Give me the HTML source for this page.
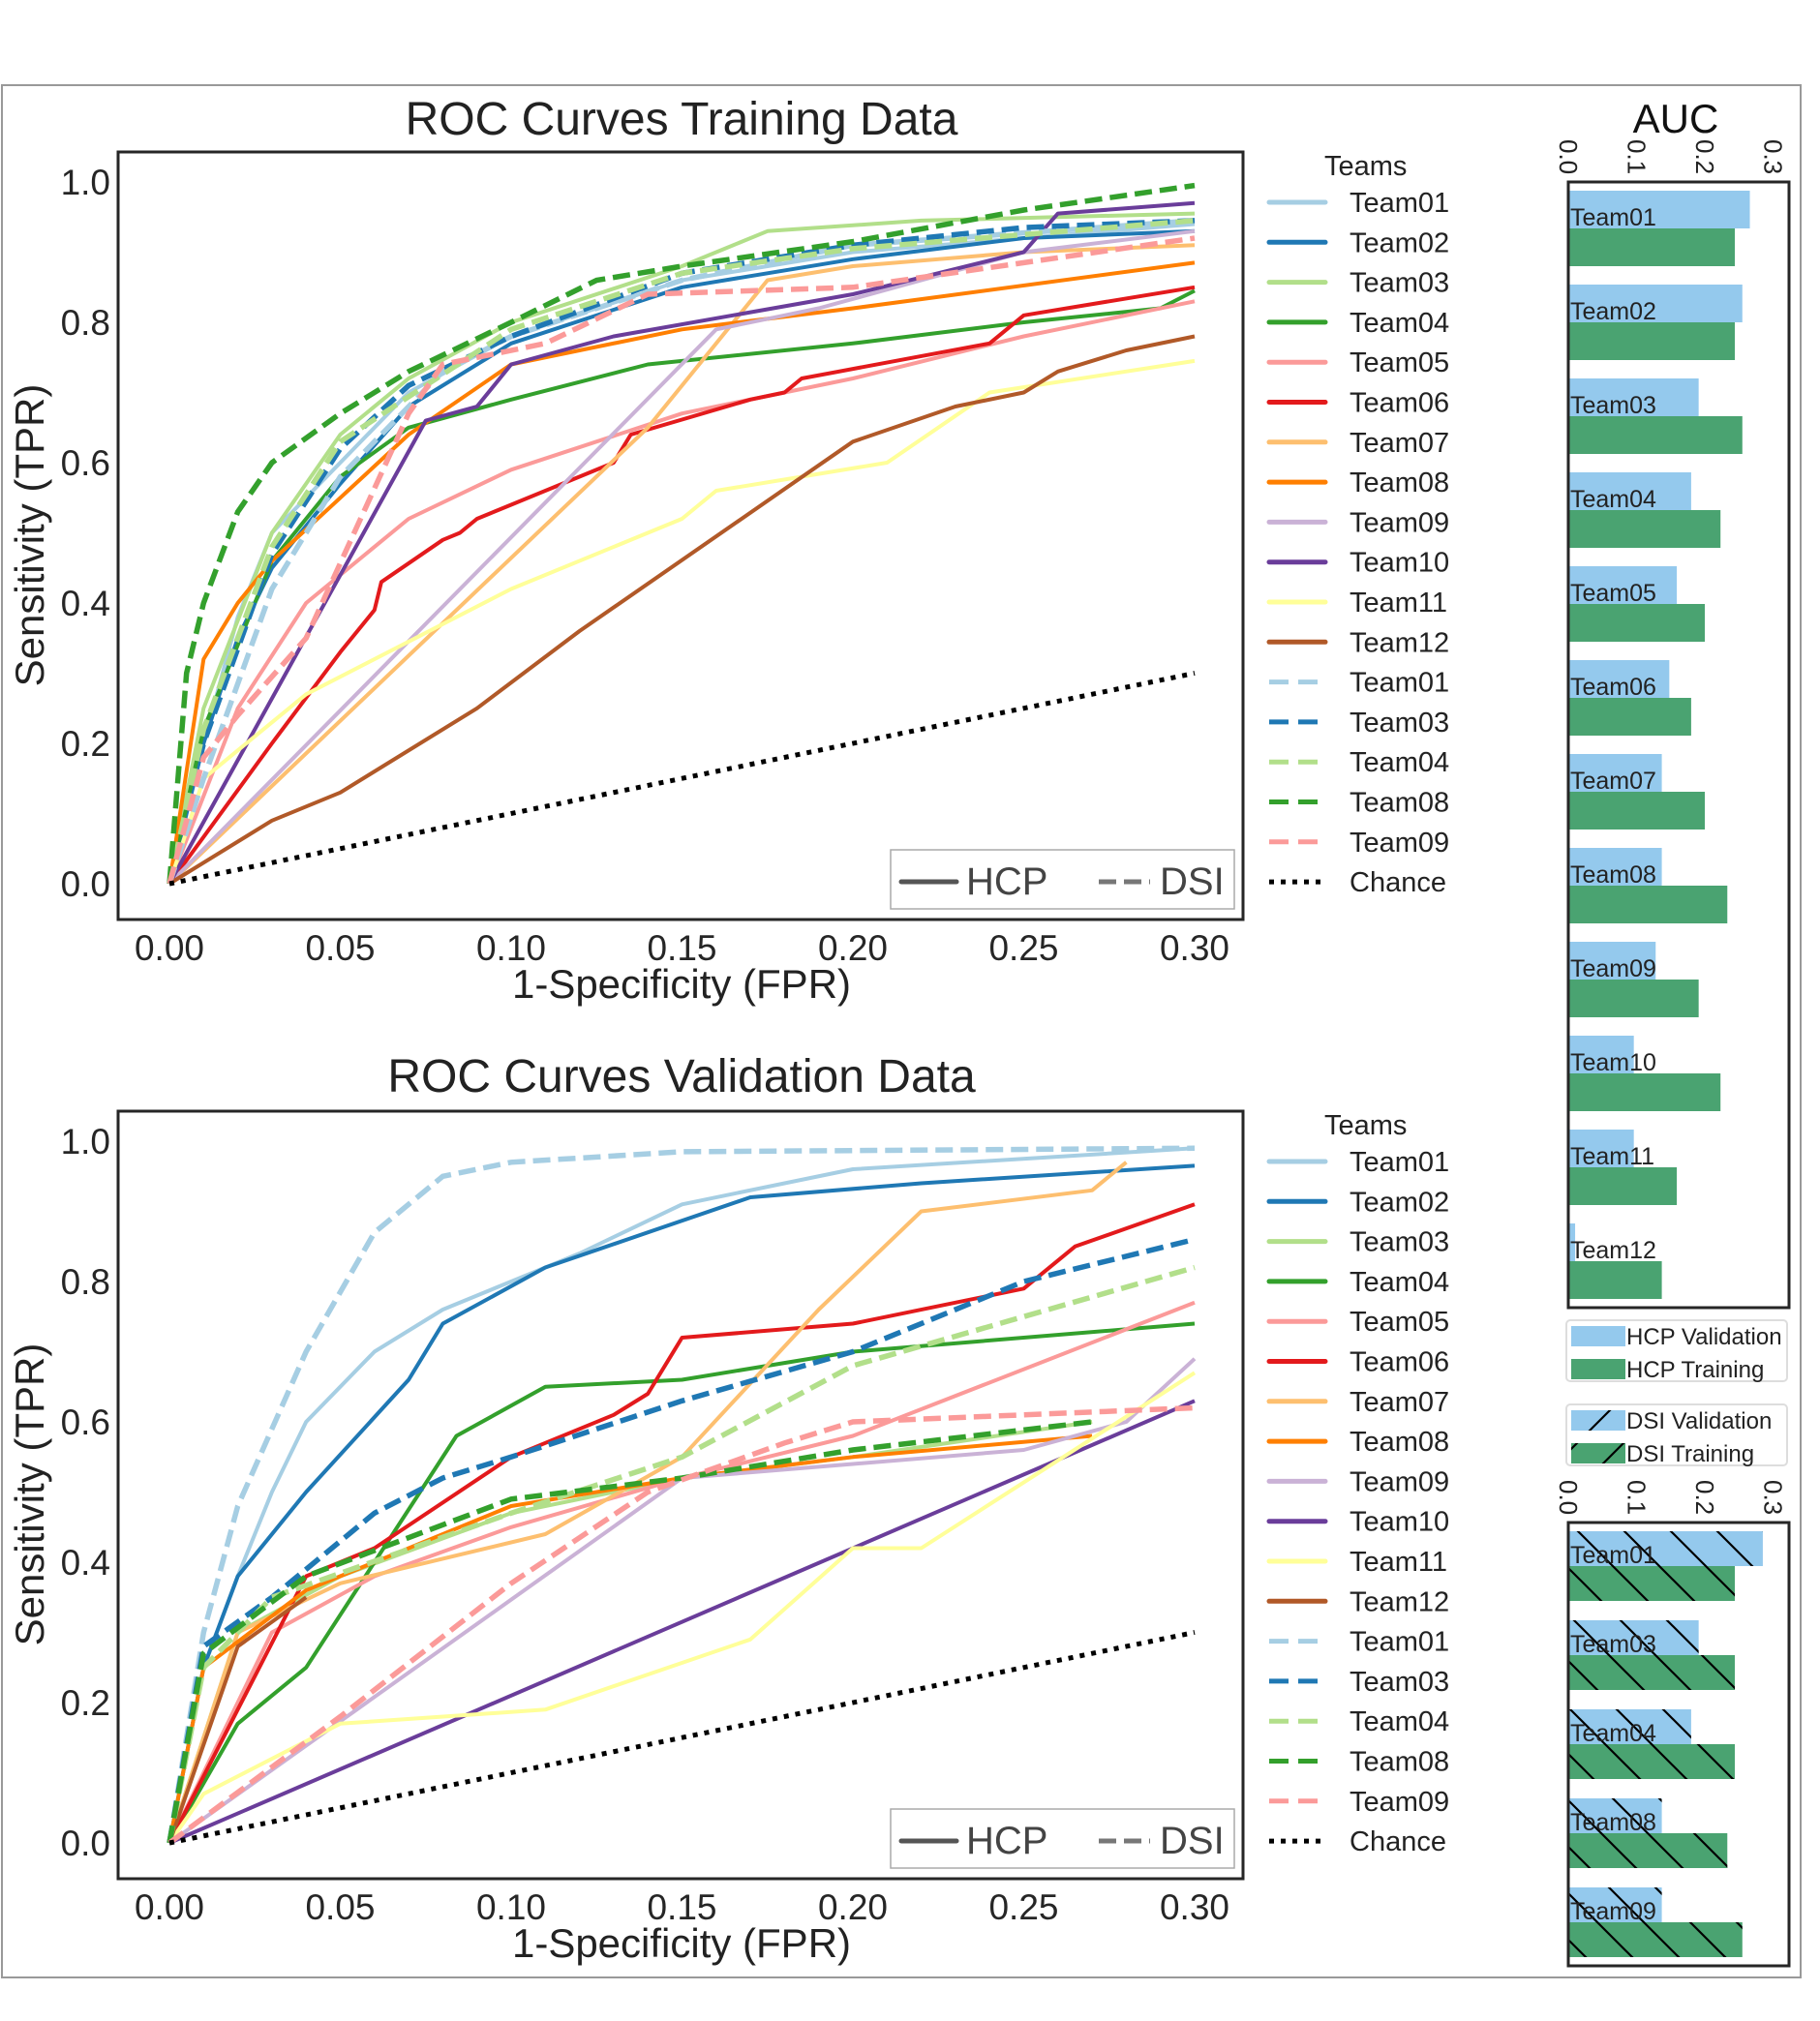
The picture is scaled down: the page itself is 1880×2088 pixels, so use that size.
<!DOCTYPE html>
<html><head><meta charset="utf-8"><style>
html,body{margin:0;padding:0;background:#fff}
svg{display:block;font-family:"Liberation Sans",sans-serif}
</style></head><body>
<svg id="fig" width="1880" height="2088" viewBox="0 0 1880 2088" xmlns="http://www.w3.org/2000/svg">
<defs>
<pattern id="hatch" patternUnits="userSpaceOnUse" width="48" height="48">
<path d="M-24,-24 L72,72 M-24,24 L24,72 M24,-24 L72,24" stroke="#000" stroke-width="2.2"/>
</pattern>
<pattern id="hatch2" patternUnits="userSpaceOnUse" width="48" height="48">
<path d="M-24,72 L72,-24 M-24,24 L24,-24 M24,72 L72,24" stroke="#000" stroke-width="2.2"/>
</pattern>
</defs>
<rect x="2" y="88" width="1858" height="1955" fill="none" stroke="#999" stroke-width="2"/>
<g id="roc1"></g>
<g id="roc2"></g>
<g id="auc"></g>
</svg>
<script>
const NS="http://www.w3.org/2000/svg";
const teamNames=["Team01","Team02","Team03","Team04","Team05","Team06","Team07","Team08","Team09","Team10","Team11","Team12"];
const teamColors=["#a6cee3","#1f78b4","#b2df8a","#33a02c","#fb9a99","#e31a1c","#fdbf6f","#ff7f00","#cab2d6","#6a3d9a","#ffff99","#b15928"];
const dsiTeams=[0,2,3,7,8];
const xTicks=["0.00","0.05","0.10","0.15","0.20","0.25","0.30"];
const yTicks=["0.0","0.2","0.4","0.6","0.8","1.0"];
// Training curves (fpr,tpr)
const trainHCP=[
[[0,0],[0.01,0.2],[0.02,0.38],[0.03,0.5],[0.05,0.6],[0.07,0.7],[0.1,0.78],[0.15,0.86],[0.2,0.9],[0.25,0.92],[0.3,0.94]],
[[0,0],[0.01,0.2],[0.02,0.35],[0.03,0.45],[0.05,0.57],[0.07,0.68],[0.1,0.77],[0.15,0.85],[0.2,0.89],[0.25,0.92],[0.3,0.93]],
[[0,0],[0.01,0.25],[0.03,0.5],[0.05,0.64],[0.07,0.72],[0.1,0.8],[0.15,0.88],[0.175,0.93],[0.22,0.945],[0.3,0.955]],
[[0,0],[0.01,0.22],[0.03,0.46],[0.05,0.58],[0.07,0.65],[0.1,0.69],[0.14,0.74],[0.2,0.77],[0.25,0.8],[0.29,0.82],[0.3,0.845]],
[[0,0],[0.02,0.25],[0.04,0.4],[0.07,0.52],[0.1,0.59],[0.15,0.67],[0.2,0.72],[0.25,0.78],[0.3,0.83]],
[[0,0],[0.03,0.2],[0.05,0.33],[0.06,0.39],[0.062,0.43],[0.08,0.49],[0.085,0.5],[0.09,0.52],[0.1,0.54],[0.13,0.6],[0.135,0.64],[0.17,0.69],[0.18,0.7],[0.185,0.72],[0.24,0.77],[0.25,0.81],[0.3,0.85]],
[[0,0],[0.14,0.65],[0.175,0.86],[0.2,0.88],[0.25,0.9],[0.3,0.91]],
[[0,0],[0.01,0.32],[0.02,0.4],[0.03,0.46],[0.05,0.55],[0.07,0.64],[0.1,0.74],[0.15,0.79],[0.2,0.82],[0.3,0.885]],
[[0,0],[0.16,0.79],[0.18,0.81],[0.19,0.82],[0.25,0.9],[0.3,0.93]],
[[0,0],[0.075,0.66],[0.09,0.68],[0.1,0.74],[0.13,0.78],[0.2,0.84],[0.25,0.9],[0.26,0.955],[0.3,0.97]],
[[0,0],[0.01,0.15],[0.04,0.27],[0.1,0.42],[0.15,0.52],[0.16,0.56],[0.21,0.6],[0.24,0.7],[0.3,0.745]],
[[0,0],[0.03,0.09],[0.05,0.13],[0.09,0.25],[0.12,0.36],[0.2,0.63],[0.23,0.68],[0.25,0.7],[0.26,0.73],[0.28,0.76],[0.3,0.78]]];
const trainDSI=[
[[0,0],[0.01,0.15],[0.03,0.42],[0.05,0.58],[0.08,0.73],[0.1,0.78],[0.15,0.86],[0.2,0.91],[0.3,0.945]],
[[0,0],[0.01,0.2],[0.03,0.47],[0.05,0.62],[0.07,0.71],[0.1,0.78],[0.15,0.87],[0.2,0.91],[0.25,0.935],[0.3,0.945]],
[[0,0],[0.01,0.22],[0.03,0.48],[0.05,0.63],[0.1,0.79],[0.15,0.87],[0.2,0.905],[0.3,0.945]],
[[0,0],[0.005,0.3],[0.01,0.4],[0.02,0.53],[0.03,0.6],[0.05,0.67],[0.07,0.73],[0.1,0.8],[0.125,0.86],[0.15,0.88],[0.2,0.915],[0.25,0.96],[0.3,0.995]],
[[0,0],[0.01,0.18],[0.02,0.24],[0.04,0.35],[0.07,0.67],[0.08,0.74],[0.11,0.77],[0.14,0.84],[0.2,0.85],[0.3,0.92]]];
const valHCP=[
[[0,0],[0.01,0.25],[0.02,0.38],[0.03,0.5],[0.04,0.6],[0.06,0.7],[0.08,0.76],[0.1,0.8],[0.12,0.84],[0.15,0.91],[0.2,0.96],[0.3,0.99]],
[[0,0],[0.01,0.25],[0.02,0.38],[0.04,0.5],[0.07,0.66],[0.08,0.74],[0.11,0.82],[0.17,0.92],[0.22,0.94],[0.3,0.965]],
[[0,0],[0.02,0.3],[0.05,0.38],[0.1,0.47],[0.15,0.52],[0.2,0.55],[0.27,0.6]],
[[0,0],[0.02,0.17],[0.04,0.25],[0.084,0.58],[0.11,0.65],[0.15,0.66],[0.2,0.7],[0.3,0.74]],
[[0,0],[0.03,0.3],[0.06,0.38],[0.1,0.45],[0.15,0.52],[0.2,0.58],[0.3,0.77]],
[[0,0],[0.04,0.38],[0.06,0.42],[0.1,0.55],[0.13,0.61],[0.14,0.64],[0.15,0.72],[0.2,0.74],[0.25,0.79],[0.265,0.85],[0.3,0.91]],
[[0,0],[0.01,0.15],[0.02,0.3],[0.05,0.37],[0.11,0.44],[0.15,0.55],[0.19,0.76],[0.22,0.9],[0.27,0.93],[0.28,0.97]],
[[0,0],[0.01,0.25],[0.04,0.36],[0.1,0.48],[0.15,0.52],[0.2,0.55],[0.27,0.58]],
[[0,0],[0.15,0.52],[0.2,0.54],[0.25,0.56],[0.28,0.6],[0.3,0.69]],
[[0,0],[0.3,0.63]],
[[0,0],[0.01,0.07],[0.05,0.17],[0.11,0.19],[0.17,0.29],[0.2,0.42],[0.22,0.42],[0.3,0.67]],
[[0,0],[0.02,0.28],[0.04,0.35]]];
const valDSI=[
[[0,0],[0.01,0.3],[0.02,0.48],[0.04,0.7],[0.06,0.87],[0.08,0.95],[0.1,0.97],[0.15,0.985],[0.3,0.99]],
[[0,0],[0.01,0.28],[0.03,0.35],[0.06,0.47],[0.08,0.52],[0.1,0.55],[0.15,0.63],[0.2,0.7],[0.25,0.8],[0.3,0.86]],
[[0,0],[0.01,0.25],[0.03,0.35],[0.1,0.47],[0.15,0.55],[0.2,0.68],[0.3,0.82]],
[[0,0],[0.01,0.27],[0.04,0.38],[0.1,0.49],[0.15,0.52],[0.2,0.56],[0.27,0.6]],
[[0,0],[0.05,0.18],[0.1,0.37],[0.14,0.5],[0.18,0.57],[0.2,0.6],[0.3,0.62]]];
// AUC bars
const hcpVal=[0.266,0.255,0.191,0.18,0.159,0.148,0.137,0.137,0.128,0.096,0.096,0.01];
const hcpTrain=[0.244,0.244,0.255,0.223,0.2,0.18,0.2,0.233,0.191,0.223,0.159,0.137];
const dsiVal=[0.285,0.191,0.18,0.137,0.137];
const dsiTrain=[0.244,0.244,0.244,0.233,0.255];
const aucTicks=["0.0","0.1","0.2","0.3"];

function el(tag,attrs,parent,text){const e=document.createElementNS(NS,tag);for(const k in attrs)e.setAttribute(k,attrs[k]);if(text!==undefined)e.textContent=text;parent.appendChild(e);return e;}

function roc(g,top,title,hcp,dsi,legTop,titleY){
  const L=122,R=1284,H=793,B=top+H;
  const xs=v=>175+v/0.3*1059;
  const ys=v=>B-37-v*725;
  const t=el('text',{x:704,y:titleY,'font-size':48,'text-anchor':'middle',fill:'#222'},g,title);
  
  xTicks.forEach((s,i)=>{const tx=el('text',{x:xs(i*0.05),y:B+42,'font-size':37,'text-anchor':'middle',fill:'#262626'},g,s);
    });
  yTicks.forEach((s,i)=>{const ty=el('text',{x:114,y:ys(i*0.2)+13,'font-size':37,'text-anchor':'end',fill:'#262626'},g,s);
    });
  const xl=el('text',{x:704,y:B+81,'font-size':42,'text-anchor':'middle',fill:'#222'},g,'1-Specificity (FPR)');
  
  const yl=el('text',{x:0,y:0,'font-size':42,'text-anchor':'middle',fill:'#222',transform:`translate(45,${top+396}) rotate(-90)`},g,'Sensitivity (TPR)');
  
  const path=pts=>pts.map((p,i)=>(i?'L':'M')+xs(p[0]).toFixed(1)+','+ys(p[1]).toFixed(1)).join('');
  hcp.forEach((pts,i)=>{const p=el('path',{d:path(pts),fill:'none',stroke:teamColors[i],'stroke-width':4,'stroke-linejoin':'round'},g);
    });
  dsi.forEach((pts,j)=>{const i=dsiTeams[j];const p=el('path',{d:path(pts),fill:'none',stroke:teamColors[j],'stroke-width':5.5,'stroke-dasharray':'18,8'},g);
    });
  const ch=el('path',{d:path([[0,0],[0.3,0.3]]),fill:'none',stroke:'#000','stroke-width':5,'stroke-dasharray':'5,7'},g);
  
  const fr=el('rect',{x:L,y:top,width:R-L,height:H,fill:'none',stroke:'#262626','stroke-width':3},g);
  
  const lb=el('g',{},g);
  const by=B-72;
  el('rect',{x:920,y:by,width:355,height:61,fill:'#fff',stroke:'#aaa','stroke-width':1.5},lb);
  el('line',{x1:931,y1:by+33,x2:988,y2:by+33,stroke:'#555','stroke-width':5,'stroke-linecap':'round'},lb);
  el('text',{x:998,y:by+46,'font-size':40,fill:'#444'},lb,'HCP');
  el('line',{x1:1135,y1:by+33,x2:1188,y2:by+33,stroke:'#777','stroke-width':5,'stroke-dasharray':'18,8'},lb);
  el('text',{x:1198,y:by+46,'font-size':40,fill:'#444'},lb,'DSI');
  const lg=el('g',{},g);
  el('text',{x:1368,y:legTop-28,'font-size':29,fill:'#222'},lg,'Teams');
  const entries=teamNames.map((n,i)=>[n,teamColors[i],'s']).concat(dsiTeams.map((i,j)=>[teamNames[i],teamColors[j],'d'])).concat([['Chance','#000','c']]);
  entries.forEach((e,k)=>{const y=legTop+k*41.3;
    const a={x1:1311,y1:y,x2:1369,y2:y,stroke:e[1],'stroke-width':5,'stroke-linecap':e[2]=='s'?'round':'butt'};
    if(e[2]=='d')a['stroke-dasharray']='20,10';if(e[2]=='c'){a['stroke-dasharray']='5,7';}
    el('line',a,lg);
    el('text',{x:1394,y:y+10,'font-size':29,fill:'#222'},lg,e[0]);});
}
roc(document.getElementById('roc1'),157,'ROC Curves Training Data',trainHCP,trainDSI,209,139);
roc(document.getElementById('roc2'),1148,'ROC Curves Validation Data',valHCP,valDSI,1200,1128);

const g=document.getElementById('auc');
const X0=1620,SC=705;
const ti=el('text',{x:1731,y:137,'font-size':42,'text-anchor':'middle',fill:'#111'},g,'AUC');

function bars(top,h,val,train,names,step,bh,hatched,nm){
  aucTicks.forEach((s,i)=>{const x=X0+i*0.1*SC+9;const t=el('text',{x:0,y:0,'font-size':26,fill:'#222','text-anchor':'start',transform:`translate(${x-18},${top-44}) rotate(90)`},g,s);
    });
  val.forEach((v,i)=>{const y=top+9+i*step;
    const r1=el('rect',{x:X0,y:y,width:v*SC,height:bh,fill:'#94c9ed'},g);
    const r2=el('rect',{x:X0,y:y+bh,width:train[i]*SC,height:bh,fill:'#4aa371'},g);
    if(hatched){el('rect',{x:X0,y:y,width:v*SC,height:bh,fill:'url(#hatch)'},g);el('rect',{x:X0,y:y+bh,width:train[i]*SC,height:bh,fill:'url(#hatch)'},g);}
    const t=el('text',{x:X0+2,y:y+bh-3,'font-size':25,fill:'#222'},g,names[i]);});
  const f=el('rect',{x:1620,y:top,width:228,height:h,fill:'none',stroke:'#262626','stroke-width':3},g);
  
}
bars(188,1163,hcpVal,hcpTrain,teamNames,97,39,false,'hcp');
bars(1573,458,dsiVal,dsiTrain,dsiTeams.map(i=>teamNames[i]),92,36,true,'dsi');
function legend(y,lab,hatched){
  const lg=el('g',{},g);
  el('rect',{x:1618,y:y,width:228,height:63,rx:4,fill:'#fff',stroke:'#ddd','stroke-width':2},lg);
  el('rect',{x:1623,y:y+6,width:56,height:21,fill:'#94c9ed'},lg);
  el('rect',{x:1623,y:y+40,width:56,height:21,fill:'#4aa371'},lg);
  if(hatched){el('rect',{x:1623,y:y+6,width:56,height:21,fill:'url(#hatch2)'},lg);el('rect',{x:1623,y:y+40,width:56,height:21,fill:'url(#hatch2)'},lg);}
  el('text',{x:1680,y:y+25,'font-size':24,fill:'#222'},lg,lab+(hatched?'  Validation':' Validation'));
  el('text',{x:1680,y:y+59,'font-size':24,fill:'#222'},lg,lab+(hatched?'   Training':'  Training'));
}
legend(1364,'HCP',false);
legend(1451,'DSI',true);
</script>
</body></html>
